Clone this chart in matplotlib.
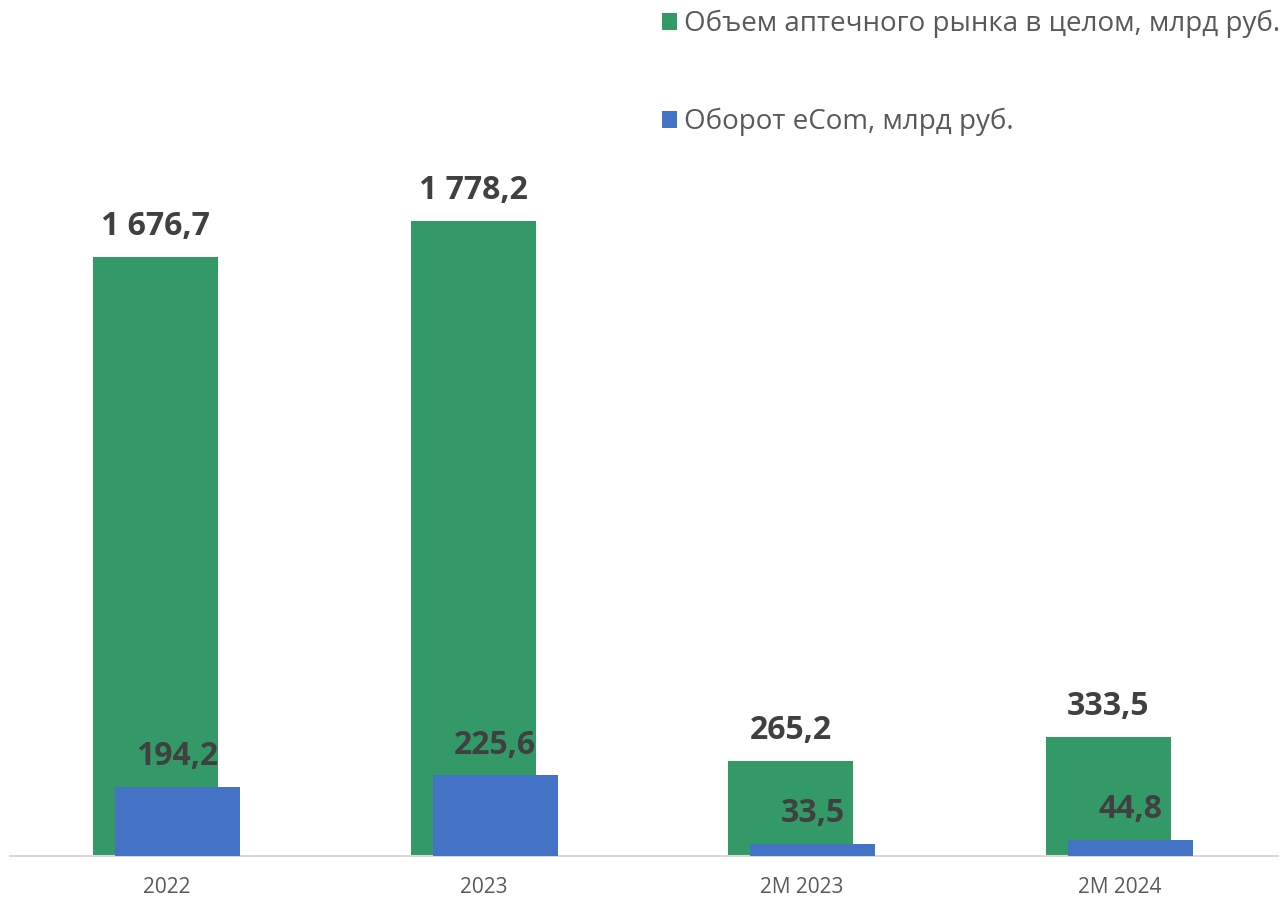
import matplotlib.pyplot as plt
import numpy as np

plt.rcParams['font.family'] = ['Open Sans', 'DejaVu Sans']

categories = ['2022', '2023', '2M 2023', '2M 2024']
market = [1676.7, 1778.2, 265.2, 333.5]
ecom = [194.2, 225.6, 33.5, 44.8]
labels_market = ['1 676,7', '1 778,2', '265,2', '333,5']
labels_ecom = ['194,2', '225,6', '33,5', '44,8']

green = '#339966'
blue = '#4472C4'

fig = plt.figure(figsize=(12.88, 8.98), dpi=100)
ax = fig.add_axes([10 / 1288, 42 / 898, 1268 / 1288, 856 / 898])

x = np.arange(len(categories))
w = 0.3935
off = 0.0346
ax.bar(x - off, market, w, color=green, label='Объем аптечного рынка в целом, млрд руб.', zorder=2)
ax.bar(x + off, ecom, w, color=blue, label='Оборот eCom, млрд руб.', zorder=3)

ax.set_xlim(-0.4926, 3.499)
ax.set_ylim(0, 856 / 0.3572)

for xi, v, t in zip(x, market, labels_market):
    ax.annotate(t, (xi - off, v), xytext=(0, 10), textcoords='offset points',
                ha='center', va='bottom', fontsize=23, fontweight='bold', color='#404040', zorder=4)
for xi, v, t in zip(x, ecom, labels_ecom):
    ax.annotate(t, (xi + off, v), xytext=(0, 10), textcoords='offset points',
                ha='center', va='bottom', fontsize=23, fontweight='bold', color='#404040', zorder=4)

for s in ['top', 'right', 'left']:
    ax.spines[s].set_visible(False)
ax.spines['bottom'].set_color('#D9D9D9')
ax.spines['bottom'].set_linewidth(1.5)
ax.set_yticks([])
ax.set_xticks(x)
ax.set_xticklabels(categories, fontsize=15, color='#595959')
ax.tick_params(axis='x', length=0, pad=15)

ax.legend(loc='upper left', bbox_to_anchor=(662 / 1288, 1 - 10 / 898), bbox_transform=fig.transFigure,
          frameon=False, fontsize=20, labelcolor='#595959', handlelength=0.55, handleheight=0.55,
          handletextpad=0.25, labelspacing=2.5, borderpad=0, borderaxespad=0)

fig.savefig('out.png', dpi=100)
